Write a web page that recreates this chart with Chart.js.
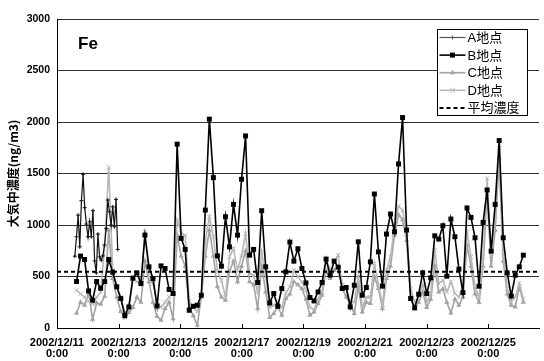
<!DOCTYPE html>
<html>
<head>
<meta charset="utf-8">
<script src="https://cdn.jsdelivr.net/npm/chart.js@4.4.1/dist/chart.umd.min.js"></script>
<style>
  html, body { margin: 0; padding: 0; background: #fff; }
  canvas { display: block; }
</style>
</head>
<body>
<canvas id="chart" width="544" height="361"></canvas>
<script>
// Fe concentration, 2002/12/11 - 2002/12/25 (hours counted from 2002/12/11 0:00)
const element = 'Fe';
const tickHours = [0, 48, 96, 144, 192, 240, 288, 336];
const tickDates = ['2002/12/11', '2002/12/13', '2002/12/15', '2002/12/17',
                   '2002/12/19', '2002/12/21', '2002/12/23', '2002/12/25'];
const tickTime = '0:00';
const yTicks = [0, 500, 1000, 1500, 2000, 2500, 3000];
const X_MAX_HOURS = 375.5;

// site A: short high-frequency record at the start
const aStartHour = 13.9;
const aStepHours = 1.284;
const siteA = [697, 886, 1096, 788, 1236, 1492, 1168, 1009, 886, 1031,
               886, 1139, 652, 535, 912, 691, 659, 700, 805, 965,
               1243, 1128, 999, 1177, 983, 1249, 763];

// sites B, C, D share the same sampling times
const sampleStartHour = 15.2;
const sampleStepHours = 3.136;
const siteB = [451, 698, 665, 360, 270, 451, 386, 451, 665, 542,
               400, 286, 121, 205, 484, 535, 432, 902, 594, 480,
               214, 603, 578, 374, 335, 1785, 870, 763, 172, 211,
               221, 318, 1145, 2028, 1460, 700, 600, 1080, 788, 1200,
               902, 1444, 1865, 707, 763, 442, 1139, 594, 243, 335,
               211, 383, 545, 834, 649, 769, 578, 438, 296, 263,
               350, 442, 668, 513, 649, 590, 383, 393, 204, 415,
               837, 318, 393, 642, 1301, 739, 406, 912, 1106, 934,
               1593, 2043, 951, 286, 195, 328, 535, 335, 487, 895,
               863, 993, 503, 1058, 886, 571, 344, 1165, 1074, 876,
               406, 1025, 1340, 746, 1200, 1820, 876, 535, 311, 513,
               594, 707];
const siteC = [143, 250, 221, 338, 84, 243, 231, 308, 950, 480,
               300, 160, 100, 150, 200, 300, 250, 650, 450, 250,
               114, 75, 189, 250, 91, 900, 700, 600, 204, 120,
               26, 300, 700, 950, 700, 400, 300, 270, 550, 650,
               450, 600, 750, 450, 420, 189, 600, 350, 101, 140,
               204, 124, 286, 330, 450, 420, 380, 280, 124, 156,
               237, 318, 560, 480, 560, 600, 383, 300, 237, 140,
               400, 156, 250, 237, 500, 383, 189, 480, 600, 900,
               1100, 1050, 850, 300, 200, 250, 350, 200, 280, 600,
               350, 380, 250, 146, 280, 221, 300, 800, 600, 330,
               250, 600, 1300, 600, 950, 1650, 650, 330, 220, 204,
               400, 250];
const siteD = [367, 330, 300, 260, 230, 300, 350, 800, 1561, 560,
               400, 300, 150, 180, 480, 450, 420, 934, 500, 430,
               260, 200, 250, 300, 350, 1048, 918, 900, 260, 200,
               160, 318, 850, 1080, 886, 560, 464, 300, 691, 772,
               560, 700, 918, 529, 513, 350, 739, 500, 200, 220,
               250, 200, 340, 399, 561, 496, 448, 367, 200, 180,
               280, 350, 675, 560, 642, 707, 420, 380, 260, 250,
               500, 200, 300, 300, 627, 420, 230, 561, 691, 983,
               1184, 1145, 918, 383, 250, 300, 420, 253, 335, 756,
               432, 464, 350, 450, 335, 300, 400, 934, 691, 399,
               300, 691, 1454, 700, 1048, 1746, 739, 383, 253, 300,
               432, 286];
const meanConc = 545;

const series = (values, start, step) => values.map((v, i) => ({ x: start + i * step, y: v }));

const TICK_FONT = '"Liberation Sans", Arial, sans-serif';
const JP_FONT = '"Liberation Sans", "Noto Sans CJK JP", sans-serif';

function drawMarker(ctx, style, x, y, r, color) {
  ctx.save();
  ctx.fillStyle = color;
  ctx.strokeStyle = color;
  ctx.lineWidth = 1;
  ctx.beginPath();
  if (style === 'rect') {
    const s = Math.SQRT1_2 * r;
    ctx.rect(x - s, y - s, 2 * s, 2 * s);
    ctx.fill();
  } else if (style === 'triangle') {
    ctx.moveTo(x, y - r);
    ctx.lineTo(x + r * 0.87, y + r * 0.5);
    ctx.lineTo(x - r * 0.87, y + r * 0.5);
    ctx.closePath();
    ctx.fill();
  } else if (style === 'crossRot') {
    const s = r * 0.8;
    ctx.moveTo(x - s, y - s); ctx.lineTo(x + s, y + s);
    ctx.moveTo(x + s, y - s); ctx.lineTo(x - s, y + s);
    ctx.stroke();
  } else if (style === 'cross') {
    ctx.moveTo(x, y - r); ctx.lineTo(x, y + r);
    ctx.moveTo(x - r, y); ctx.lineTo(x + r, y);
    ctx.stroke();
  }
  ctx.restore();
}

const decorations = {
  id: 'decorations',
  beforeDraw(chart) {
    const ctx = chart.ctx;
    ctx.save();
    ctx.fillStyle = '#fff';
    ctx.fillRect(0, 0, chart.width, chart.height);
    ctx.restore();
  },
  afterDraw(chart) {
    const ctx = chart.ctx;
    const area = chart.chartArea;
    const xs = chart.scales.x;

    // inward tick marks on the time axis
    ctx.save();
    ctx.strokeStyle = '#000';
    ctx.lineWidth = 1;
    ctx.beginPath();
    tickHours.forEach(h => {
      const px = Math.round(xs.getPixelForValue(h)) + 0.5;
      ctx.moveTo(px, area.bottom);
      ctx.lineTo(px, area.bottom - 4);
    });
    ctx.stroke();
    ctx.restore();

    // element name
    ctx.save();
    ctx.fillStyle = '#000';
    ctx.font = 'bold 17px ' + TICK_FONT;
    ctx.textBaseline = 'middle';
    ctx.fillText(element, area.left + 21, area.top + 25);
    ctx.restore();

    // legend box
    const boxW = 90, boxH = 86;
    const bx = Math.round(area.right - 102) + 0.5;
    const by = Math.round(area.top + 10) + 0.5;
    ctx.save();
    ctx.fillStyle = '#fff';
    ctx.fillRect(bx, by, boxW, boxH);
    ctx.strokeStyle = '#000';
    ctx.lineWidth = 1;
    ctx.strokeRect(bx, by, boxW, boxH);
    ctx.font = '13px ' + JP_FONT;
    ctx.textBaseline = 'middle';
    chart.data.datasets.forEach((ds, i) => {
      const y = by + 8 + i * 17.6;
      const x0 = bx + 2, x1 = bx + 28;
      ctx.save();
      ctx.strokeStyle = ds.legendColor || ds.borderColor;
      ctx.lineWidth = ds.borderWidth;
      ctx.setLineDash(ds.borderDash || []);
      ctx.beginPath();
      ctx.moveTo(x0, y);
      ctx.lineTo(x1, y);
      ctx.stroke();
      ctx.restore();
      if (ds.pointRadius > 0) {
        drawMarker(ctx, ds.pointStyle, (x0 + x1) / 2, y, ds.pointRadius, ds.legendColor || ds.borderColor);
      }
      ctx.fillStyle = '#000';
      ctx.fillText(ds.label, bx + 30, y + 1);
    });
    ctx.restore();
  }
};

new Chart(document.getElementById('chart'), {
  type: 'line',
  data: {
    datasets: [
      {
        label: 'A地点', data: series(siteA, aStartHour, aStepHours),
        borderColor: '#111', backgroundColor: '#111', legendColor: '#555',
        borderWidth: 1.2, pointStyle: 'cross', pointRadius: 2, pointBorderWidth: 1, order: 2
      },
      {
        label: 'B地点', data: series(siteB, sampleStartHour, sampleStepHours),
        borderColor: '#000', backgroundColor: '#000',
        borderWidth: 1.6, pointStyle: 'rect', pointRadius: 3.5, pointBorderWidth: 0, order: 1
      },
      {
        label: 'C地点', data: series(siteC, sampleStartHour, sampleStepHours),
        borderColor: '#a2a2a2', backgroundColor: '#a2a2a2',
        borderWidth: 1.6, pointStyle: 'triangle', pointRadius: 3, pointBorderWidth: 0, order: 4
      },
      {
        label: 'D地点', data: series(siteD, sampleStartHour, sampleStepHours),
        borderColor: '#b8b8b8', backgroundColor: '#b8b8b8',
        borderWidth: 1.6, pointStyle: 'crossRot', pointRadius: 3, pointBorderWidth: 1, order: 3
      },
      {
        label: '平均濃度', data: [{ x: 0, y: meanConc }, { x: X_MAX_HOURS, y: meanConc }],
        borderColor: '#000', backgroundColor: '#000',
        borderWidth: 2, borderDash: [4, 3], pointRadius: 0, order: 0
      }
    ]
  },
  options: {
    responsive: false,
    devicePixelRatio: 1,
    animation: false,
    events: [],
    layout: { padding: { top: 19, right: 0, left: 0, bottom: 0 } },
    elements: { line: { tension: 0 } },
    plugins: { legend: { display: false }, tooltip: { enabled: false } },
    scales: {
      x: {
        type: 'linear',
        min: 0, max: X_MAX_HOURS,
        afterBuildTicks: s => { s.ticks = tickHours.map(v => ({ value: v })); },
        afterFit: s => { s.height = 33; },
        grid: { display: false, drawTicks: false },
        border: { display: true, color: '#000', width: 1 },
        ticks: {
          autoSkip: false, maxRotation: 0, padding: 10,
          color: '#000',
          font: { family: TICK_FONT, size: 11, weight: 'bold', lineHeight: 0.95 },
          callback: v => [tickDates[tickHours.indexOf(v)], tickTime]
        }
      },
      y: {
        min: 0, max: 3000,
        afterBuildTicks: s => { s.ticks = yTicks.map(v => ({ value: v })); },
        afterFit: s => { s.width = 57; },
        grid: { color: '#333', lineWidth: 1, drawTicks: false },
        border: { display: true, color: '#000', width: 1 },
        ticks: {
          padding: 7, color: '#000',
          font: { family: TICK_FONT, size: 10.5, weight: 'bold' },
          callback: v => String(v)
        },
        title: {
          display: true, text: '大気中濃度(ng/m3)', color: '#000',
          font: { family: '"Noto Sans CJK JP", sans-serif', size: 12, weight: 'bold' },
          padding: { top: 6, bottom: 0 }
        }
      }
    }
  },
  plugins: [decorations]
});
</script>
</body>
</html>
